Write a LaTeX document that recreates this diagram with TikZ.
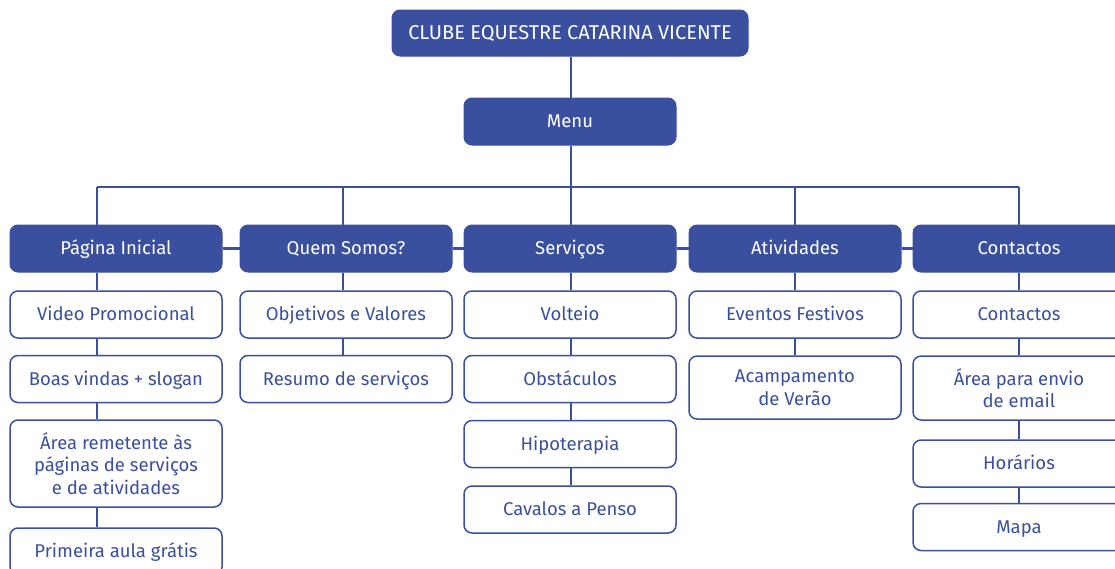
\documentclass[tikz,border=0pt]{standalone}
\usepackage{fontspec}
\setmainfont{Fira Sans}
\definecolor{cb}{HTML}{3A509E}
\begin{document}
\begin{tikzpicture}[x=1pt,y=-1pt,
  box/.style={rounded corners=8pt, inner sep=0pt, align=center, minimum width=212pt, minimum height=47pt},
  oneline/.style={text height=13pt, text depth=0.5pt},
  filled/.style={box, oneline, fill=cb, draw=cb, text=white, line width=1pt},
  plain/.style={box, fill=white, draw=cb, text=cb, line width=1.5pt},
  plainone/.style={plain, oneline},
  link/.style={draw=cb, line width=2.4pt},
  font=\fontsize{18.5}{22.5}\selectfont]
\useasboundingbox (0,0) rectangle (1115,568);
\clip (0,0) rectangle (1115,568);
% coordinates of the bus
\coordinate (x1) at (97,187);
\coordinate (x2) at (343,187);
\coordinate (x3) at (571,187);
\coordinate (x4) at (795,187);
\coordinate (x5) at (1019,187);
% top
\node[filled, minimum width=356pt, minimum height=46pt, font=\fontsize{20}{22.5}\selectfont] (title) at (570,33) {CLUBE EQUESTRE CATARINA VICENTE};
\node[filled] (menu) at (570,121.5) {Menu};
% level 2
\node[filled] (pag) at (116,248.5) {Página Inicial};
\node[filled] (quem) at (346,248.5) {Quem Somos?};
\node[filled] (serv) at (570,248.5) {Serviços};
\node[filled] (ativ) at (795,248.5) {Atividades};
\node[filled] (cont) at (1019,248.5) {Contactos};
% column 1
\node[plainone] (a1) at (116,314.5) {Video Promocional};
\node[plainone] (a2) at (116,379) {Boas vindas + slogan};
\node[plain, minimum height=87pt] (a3) at (116,463.5) {Área remetente às\\páginas de serviços\\e de atividades};
\node[plainone] (a4) at (116,551.5) {Primeira aula grátis};
% column 2
\node[plainone] (b1) at (346,314.5) {Objetivos e Valores};
\node[plainone] (b2) at (346,379) {Resumo de serviços};
% column 3
\node[plainone] (c1) at (570,314.5) {Volteio};
\node[plainone] (c2) at (570,379) {Obstáculos};
\node[plainone] (c3) at (570,444) {Hipoterapia};
\node[plainone] (c4) at (570,509.5) {Cavalos a Penso};
% column 4
\node[plainone] (d1) at (795,314.5) {Eventos Festivos};
\node[plain, minimum height=63pt] (d2) at (795,387.5) {Acampamento\\de Verão};
% column 5
\node[plainone] (e1) at (1019,314.5) {Contactos};
\node[plain, minimum height=64pt] (e2) at (1019,388) {Área para envio\\de email};
\node[plainone] (e3) at (1019,463.5) {Horários};
\node[plainone] (e4) at (1019,527) {Mapa};
% connectors
\draw[link] (title.south -| x3) -- (menu.north -| x3);
\draw[link] (menu.south -| x3) -- (x3);
\draw[link] (x1) -- (x5);
\draw[link] (x1) -- (pag.north -| x1);
\draw[link] (x2) -- (quem.north -| x2);
\draw[link] (x3) -- (serv.north -| x3);
\draw[link] (x4) -- (ativ.north -| x4);
\draw[link] (x5) -- (cont.north -| x5);
\draw[link] (pag.east) -- (quem.west);
\draw[link] (quem.east) -- (serv.west);
\draw[link] (serv.east) -- (ativ.west);
\draw[link] (ativ.east) -- (cont.west);
\draw[link] (pag.south -| x1) -- (a1.north -| x1);
\draw[link] (a1.south -| x1) -- (a2.north -| x1);
\draw[link] (a2.south -| x1) -- (a3.north -| x1);
\draw[link] (a3.south -| x1) -- (a4.north -| x1);
\draw[link] (quem.south -| x2) -- (b1.north -| x2);
\draw[link] (b1.south -| x2) -- (b2.north -| x2);
\draw[link] (serv.south -| x3) -- (c1.north -| x3);
\draw[link] (c1.south -| x3) -- (c2.north -| x3);
\draw[link] (c2.south -| x3) -- (c3.north -| x3);
\draw[link] (c3.south -| x3) -- (c4.north -| x3);
\draw[link] (ativ.south -| x4) -- (d1.north -| x4);
\draw[link] (d1.south -| x4) -- (d2.north -| x4);
\draw[link] (cont.south -| x5) -- (e1.north -| x5);
\draw[link] (e1.south -| x5) -- (e2.north -| x5);
\draw[link] (e2.south -| x5) -- (e3.north -| x5);
\draw[link] (e3.south -| x5) -- (e4.north -| x5);
\end{tikzpicture}
\end{document}
